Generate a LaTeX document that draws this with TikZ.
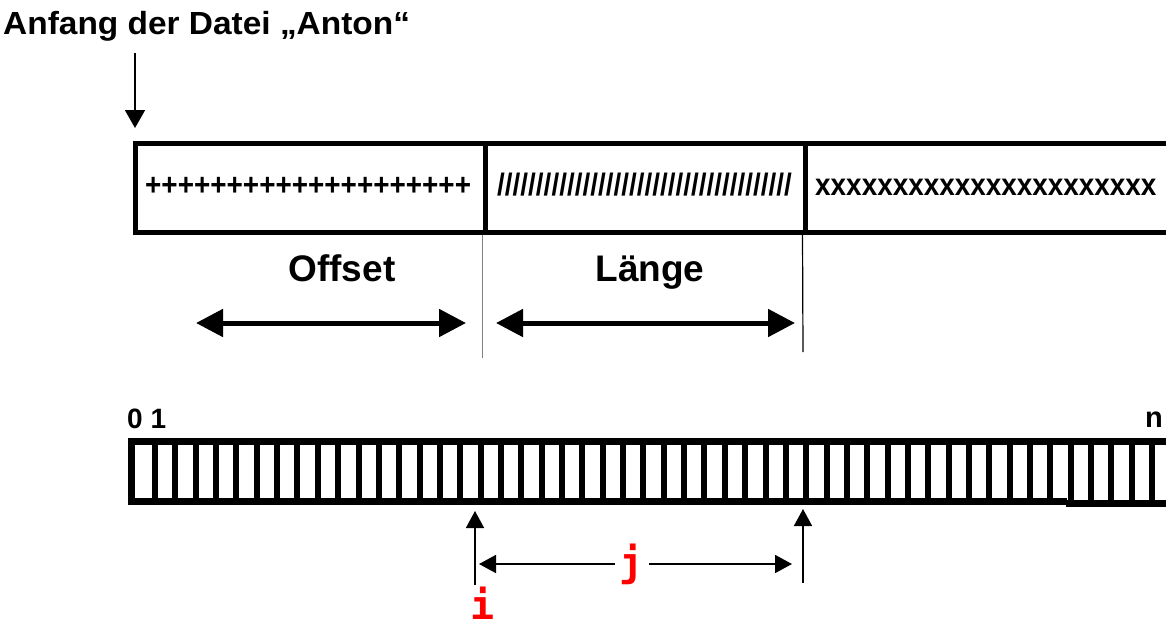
\documentclass[tikz,border=0pt]{standalone}
\usepackage{fontspec}
\usepackage{graphicx}
\setmainfont{Liberation Sans}
\setmonofont{DejaVu Sans Mono}
\usetikzlibrary{arrows.meta}
\begin{document}
\begin{tikzpicture}[x=1pt,y=-1pt,
  lbl/.style={inner sep=0pt, font=\bfseries},
  boxtext/.style={inner sep=0pt, anchor=base west, font=\bfseries\fontsize{31}{37}\selectfont},
  cell/.style={draw, line width=5pt, inner sep=0pt, anchor=north west},
  thinarrow/.style={line width=1.8pt, -{Triangle[length=17pt,width=18pt]}},
  startarrow/.style={line width=1.8pt, -{Triangle[length=18pt,width=20pt]}},
  dimarrow/.style={line width=5pt, {Triangle[length=27pt,width=27pt]}-{Triangle[length=27pt,width=27pt]}},
  redmono/.style={inner sep=0pt, text=red, font=\ttfamily\bfseries\fontsize{40}{48}\selectfont}
]
\useasboundingbox (0,0) rectangle (1166,622);

% title and start arrow
\node[lbl, anchor=base west, font=\bfseries\fontsize{32}{38}\selectfont] (title) at (3,34)
  {\scalebox{1.045}[1]{Anfang der Datei „Anton“}};
\coordinate (startTail) at (135,53);
\coordinate (fileStart) at (135,128);
\draw[startarrow] (startTail) -- (fileStart);

% file cells
\node[cell, minimum width=350pt, minimum height=89pt] (c1) at (132.5,140.5) {};
\node[cell, minimum width=320pt, minimum height=89pt] (c2) at (482.5,140.5) {};
\node[cell, minimum width=380pt, minimum height=89pt] (c3) at (802.5,140.5) {};

\node[boxtext] (plus) at (145,195)
  {\scalebox{0.9}[1]{++++++++++++++++++++}};
\node[boxtext] (slash) at (497,195)
  {\scalebox{0.9}[1]{//////////////////////////////////////}};
\node[boxtext] (xs) at (815,195)
  {\scalebox{0.9}[1]{xxxxxxxxxxxxxxxxxxxxxx}};

% dimension lines
\coordinate (d1) at (482.5,358);
\coordinate (d2) at (803,352);
\draw[gray, line width=1.3pt] (c2.south west) -- (d1);
\draw[black, line width=1.2pt] (c3.south west) -- (d2);

\node[lbl, anchor=base, font=\bfseries\fontsize{37}{44}\selectfont] (offset) at (342,281) {Offset};
\node[lbl, anchor=base, font=\bfseries\fontsize{37}{44}\selectfont] (laenge) at (650,281) {Länge};

\coordinate (oL) at (196,323);
\coordinate (oR) at (466,323);
\coordinate (lL) at (496,323);
\coordinate (lR) at (795,323);
\draw[dimarrow] (oL) -- (oR);
\draw[dimarrow] (lL) -- (lR);

% byte strip
\foreach \k in {1,...,51}
  \fill ({155+20.35*(\k-1)-3},441) rectangle ++(6,62);
\draw[line width=7pt] (1185,441) -- (131,441) -- (131,501.5) -- (1067,501.5);
\draw[line width=7pt] (1066,503.5) -- (1185,503.5);

\node[lbl, anchor=base west, font=\bfseries\fontsize{28}{34}\selectfont] (n01) at (127,428) {0 1};
\node[lbl, anchor=base east, font=\bfseries\fontsize{29}{35}\selectfont] (nn) at (1163,427) {n};

% i and j
\coordinate (iTail) at (475,585);
\coordinate (iHead) at (475,511);
\coordinate (eTail) at (803,583);
\coordinate (eHead) at (803,509);
\draw[thinarrow] (iTail) -- (iHead);
\draw[thinarrow] (eTail) -- (eHead);

\node[redmono, inner xsep=5pt] (j) at (632,564) {j};
\coordinate (jL) at (479,564);
\coordinate (jR) at (792,564);
\draw[thinarrow] (j.west) -- (jL);
\draw[thinarrow] (j.east) -- (jR);

\node[redmono, anchor=base] (i) at (482.5,619) {i};
\end{tikzpicture}
\end{document}
